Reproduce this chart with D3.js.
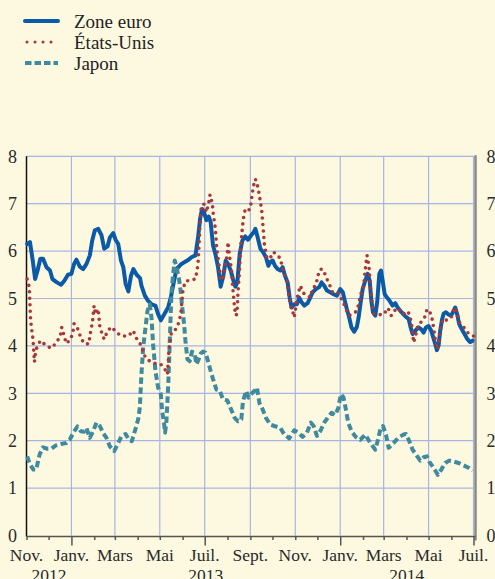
<!DOCTYPE html>
<html>
<head>
<meta charset="utf-8">
<script src="https://cdn.jsdelivr.net/npm/d3@7"></script>
<style>
  body { margin: 0; background: #fdf9e1; }
</style>
</head>
<body>
<div id="chart"></div>
<script>
// series names (legend)
const seriesNames = ["Zone euro", "États-Unis", "Japon"];

// x axis labels, one every two months from Nov. 2012
const monthLabels = ["Nov.", "Janv.", "Mars", "Mai", "Juil.", "Sept.", "Nov.", "Janv.", "Mars", "Mai", "Juil."];
const yearLabels = ["2012", "2013", "2014"];
const yTicks = [0, 1, 2, 3, 4, 5, 6, 7, 8];

// [days since 1 Nov 2012, value]
const euro = [
  [0.9,6.15],[4.7,6.19],[8.5,5.8],[11.7,5.41],[15,5.59],[18.8,5.84],[22.5,5.84],[27.2,5.66],[31.9,5.59],
  [35.2,5.41],[41.3,5.34],[46.9,5.29],[51.6,5.38],[56.3,5.5],[61,5.52],[64.6,5.73],[67.8,5.82],[72.4,5.67],
  [76.9,5.62],[81.5,5.73],[86,5.91],[89.2,6.22],[92.8,6.44],[97.4,6.47],[101.9,6.33],[105.5,6.05],[110.1,6.1],
  [113.3,6.29],[117.8,6.38],[121,6.24],[124.6,6.15],[128.3,5.8],[131.5,5.66],[134.6,5.31],[138.3,5.15],
  [141.9,5.48],[145.1,5.62],[149.6,5.5],[154.2,5.43],[156.1,5.27],[160.7,5.06],[165.2,4.95],[170.6,4.87],
  [175.1,4.85],[178.7,4.67],[182.4,4.54],[186.9,4.66],[192.3,4.81],[195.9,5.02],[199.1,5.27],[203.6,5.62],
  [206.8,5.67],[210.4,5.73],[214.9,5.77],[219.4,5.81],[224,5.87],[229.4,5.91],[233,6.29],[235.7,6.68],
  [238.4,6.89],[241.1,6.82],[244.3,6.65],[247.4,6.73],[250.1,6.61],[253.3,6.12],[256.5,5.94],[260.1,5.66],
  [263.7,5.25],[267.3,5.48],[270.5,5.8],[273.6,5.73],[277.3,5.59],[280.4,5.41],[283.6,5.25],[286.3,5.34],
  [289.5,5.94],[293.1,6.22],[297.1,6.31],[300.7,6.24],[304.9,6.33],[308.5,6.4],[310.8,6.47],[313.9,6.29],
  [317.6,6.05],[321.2,5.98],[325.2,5.87],[328.4,5.69],[331.1,5.77],[334.3,5.8],[337.4,5.69],[341.1,5.62],
  [344.7,5.59],[347.8,5.66],[351,5.48],[354.6,5.34],[357.3,5.02],[360,4.81],[363.6,4.88],[367.3,4.88],
  [370.4,5.02],[373.6,4.92],[377.2,4.85],[381.7,4.9],[385.3,5.02],[388.5,5.13],[393,5.2],[397.5,5.24],
  [400.7,5.34],[404.3,5.27],[407.9,5.17],[412.5,5.13],[417,5.09],[421.5,5.06],[426,5.2],[429.6,5.13],
  [432.3,4.95],[435,4.78],[438.2,4.6],[441.3,4.39],[444.9,4.3],[448.6,4.4],[451,4.6],[453.4,4.88],
  [456.5,5.2],[460.1,5.38],[463.3,5.52],[466,5.38],[468.3,4.95],[470.5,4.71],[473.7,4.64],[476.4,4.95],
  [479.1,5.52],[481.4,5.59],[483.6,5.38],[486.4,5.09],[489.5,5.02],[493.1,4.95],[497.2,4.85],[500.8,4.9],
  [504,4.81],[507.6,4.74],[511.2,4.68],[515.3,4.61],[518.9,4.57],[521.6,4.39],[524.3,4.25],[527.9,4.32],
  [532.4,4.39],[536.1,4.35],[539.2,4.28],[542.4,4.39],[546,4.42],[549.6,4.32],[552.3,4.18],[555,4.04],
  [557.3,3.91],[559.6,4.01],[561.8,4.32],[564.1,4.54],[566.4,4.68],[569.5,4.71],[573.1,4.66],[576.7,4.64],
  [579.9,4.74],[582.2,4.81],[584.9,4.66],[587.6,4.46],[591.2,4.35],[594.8,4.25],[598.4,4.15],[602.5,4.08],
  [605.7,4.11]
];

const us = [
  [0.9,5.41],[3.8,5.24],[4.7,4.88],[5.6,4.54],[7,4.35],[8.5,4.18],[9.4,4.0],[10.8,3.66],[12,3.82],[14.1,3.97],
  [18.8,4.11],[25.8,4.02],[32.9,3.95],[39.9,4.05],[46,4.21],[47.9,4.39],[54,4.05],[60.1,4.14],[63.3,4.32],
  [64.6,4.47],[70,4.35],[73.6,4.18],[78.1,4.05],[84.5,4.04],[87.3,4.32],[89.5,4.49],[91.8,4.85],[93.6,4.67],
  [97.3,4.78],[99.5,4.42],[102.7,4.25],[105.5,4.14],[110.1,4.32],[115.5,4.4],[122.3,4.28],[129.2,4.21],
  [138.3,4.21],[145.1,4.32],[148.3,4.18],[154.2,4.05],[161.6,3.75],[169.7,3.65],[182.4,3.61],[187.8,3.51],
  [191.4,3.4],[193.7,3.96],[196.8,4.28],[202.7,4.35],[206.8,4.49],[209.5,4.67],[212.6,5.2],[215.8,5.36],
  [223,5.39],[229.4,5.41],[231.6,5.59],[233,5.76],[234.3,6.12],[235.2,6.44],[237.5,6.96],[241.1,6.99],
  [244.3,6.82],[247.4,7.01],[249.2,7.19],[252.4,7.0],[253.3,6.82],[256.5,6.47],[258.3,6.05],[261,5.76],
  [263.7,5.41],[266.9,5.39],[269.1,5.66],[272.8,5.94],[273.6,6.19],[275.9,5.87],[278.2,5.62],[280.4,5.17],
  [282.7,4.78],[284.9,4.64],[286.3,4.81],[287.2,5.13],[289,5.52],[290.8,6.08],[292.6,6.4],[294.4,6.68],
  [297.1,6.89],[300.7,6.86],[303.9,6.89],[306.7,7.23],[308.5,7.39],[310.8,7.52],[313.9,7.37],[316.2,7.18],
  [319.4,6.86],[321.2,6.51],[323,6.15],[326.6,5.84],[331.1,5.86],[335.6,5.98],[340.1,5.91],[344.7,5.85],
  [349.2,5.52],[353.7,5.41],[356,5.09],[358.2,4.87],[361.4,4.73],[363.6,4.6],[365.9,4.85],[368.2,5.06],
  [371.8,5.27],[376.3,5.11],[380.8,5.08],[385.3,5.02],[388.5,5.2],[393,5.29],[397.5,5.59],[399.8,5.62],
  [403.4,5.6],[406.6,5.45],[411.1,5.31],[415.6,5.13],[422.4,5.13],[429.2,4.95],[433.7,4.78],[438.2,4.64],
  [442.7,4.68],[447.2,4.72],[450.5,4.85],[454,5.09],[457.9,5.27],[460.1,5.62],[462.4,5.91],[463.8,5.8],
  [465.6,5.59],[466.9,5.27],[468.3,5.06],[470.1,4.81],[471.4,4.68],[476,4.66],[485,4.66],[490.9,4.8],
  [495.4,4.64],[500.8,4.76],[504.7,4.8],[511.2,4.67],[518,4.73],[521.1,4.6],[523.4,4.4],[525.7,4.07],
  [528.8,4.25],[531.5,4.42],[536.1,4.51],[540.6,4.6],[543.7,4.76],[546.9,4.76],[550.5,4.59],[552.8,4.39],
  [555,4.14],[557.8,3.93],[560.5,4.18],[563.2,4.42],[565.5,4.57],[570.9,4.54],[576.7,4.6],[581.2,4.81],
  [584.4,4.71],[587.6,4.5],[593.5,4.4],[600.2,4.26],[607,4.21]
];

const japon = [
  [0.9,1.67],[4.7,1.5],[9.4,1.39],[13.1,1.39],[17.8,1.71],[22.5,1.86],[28.2,1.83],[33.8,1.83],[39.9,1.9],
  [46.9,1.93],[54,1.95],[58.7,2.02],[63.3,2.16],[69.1,2.3],[73.6,2.2],[78.1,2.19],[81.4,2.27],[85.9,2.06],
  [90.5,2.2],[95,2.38],[99.5,2.31],[104.1,2.16],[108.6,2.06],[113.2,1.88],[119.1,1.78],[123.6,1.92],
  [129.1,2.1],[134.6,2.14],[139.1,2.02],[143,1.99],[147.1,2.2],[151.6,2.45],[153.9,2.7],[156.1,3.4],
  [158.4,3.96],[161.6,4.39],[164.3,4.74],[167.4,4.88],[169.7,4.6],[171.9,4.04],[175.1,3.47],[178.7,3.12],
  [182.4,2.98],[184.2,2.63],[186.4,2.41],[188.2,2.17],[190,2.41],[192.3,3.12],[193.7,3.68],[195.5,4.53],
  [196.8,5.09],[199.1,5.52],[201.3,5.8],[203.6,5.66],[206.8,5.45],[209.5,5.13],[211.7,4.78],[214,4.46],
  [215.8,4.11],[218.5,3.72],[221.7,3.68],[224.8,3.88],[228.4,3.84],[230.7,3.61],[233.9,3.72],[236.6,3.84],
  [239.7,3.88],[242.9,3.86],[246.5,3.68],[250.1,3.47],[253.3,3.3],[257.8,3.08],[262.3,3.06],[266.9,2.87],
  [272.7,2.85],[277.3,2.68],[282.7,2.48],[287.2,2.41],[291.7,2.45],[294,2.84],[298.3,3.05],[301.5,2.91],
  [304.9,2.98],[309.4,3.05],[313,3.12],[316.2,2.8],[320.7,2.66],[325.2,2.48],[331.1,2.34],[336.5,2.31],
  [344.7,2.27],[350.1,2.13],[356.9,2.05],[363.6,2.22],[369.1,2.17],[374.9,2.08],[380.8,2.17],[386.2,2.38],
  [389.9,2.31],[394.4,2.1],[398.9,2.2],[404.3,2.38],[409.7,2.5],[414.3,2.59],[418.8,2.54],[423.3,2.68],
  [426.9,2.98],[430.5,2.91],[433.7,2.66],[436.9,2.38],[441.4,2.2],[447,2.08],[453.2,2.02],[460.1,2.13],
  [466.9,1.95],[473.7,1.81],[477.3,2.02],[480.5,2.24],[484.1,2.31],[488.2,2.12],[491.8,1.85],[496.3,1.92],
  [500.8,1.99],[505.3,2.07],[512.1,2.13],[515.3,2.14],[519.8,1.99],[524.3,1.81],[528.8,1.71],[534.7,1.58],
  [539.2,1.65],[543.7,1.67],[546.9,1.56],[551.4,1.46],[555,1.37],[558.7,1.28],[563.2,1.39],[568.6,1.53],
  [574,1.58],[579.9,1.56],[586.7,1.53],[593.5,1.48],[600.2,1.43],[605.7,1.37]
];

// sizes
const svgWidth = 495;
const svgHeight = 579;
const plot = { left: 26.5, right: 473.5, top: 156.3, bottom: 535.5 };
const serif = '"Liberation Serif"';

const start = new Date(2012, 10, 1);
const end = new Date(2014, 6, 1);
const dayDate = d => new Date(start.getTime() + d * 864e5);

const svg = d3.select("#chart").append("svg")
  .attr("width", svgWidth)
  .attr("height", svgHeight);

svg.append("rect").attr("width", svgWidth).attr("height", svgHeight).attr("fill", "#fdf9e1");

const x = d3.scaleTime().domain([start, end]).range([plot.left, plot.right]);
const y = d3.scaleLinear().domain([0, 8]).range([plot.bottom, plot.top]);

// gridlines
const gridColor = "#a7b5e2";
const monthTicks = monthLabels.map((m, i) => d3.timeMonth.offset(start, 2 * i));

svg.append("g").selectAll("line")
  .data(yTicks.filter(v => v > 0))
  .enter().append("line")
  .attr("x1", plot.left).attr("x2", plot.right)
  .attr("y1", d => y(d)).attr("y2", d => y(d))
  .attr("stroke", gridColor).attr("stroke-width", 1.2);

svg.append("g").selectAll("line")
  .data(monthTicks.slice(1))
  .enter().append("line")
  .attr("x1", d => x(d)).attr("x2", d => x(d))
  .attr("y1", plot.top).attr("y2", plot.bottom)
  .attr("stroke", gridColor).attr("stroke-width", 1.2);

// y axes (labels only)
const leftAxis = d3.axisLeft(y).tickValues(yTicks).tickSize(0).tickPadding(9.5);
const rightAxis = d3.axisRight(y).tickValues(yTicks).tickSize(0).tickPadding(11);

const yAxisL = svg.append("g").attr("transform", `translate(${plot.left},0)`).call(leftAxis);
const yAxisR = svg.append("g").attr("transform", `translate(${plot.right + 2},0)`).call(rightAxis);
[yAxisL, yAxisR].forEach(g => {
  g.select(".domain").remove();
  g.selectAll("text")
    .style("font-family", serif)
    .style("font-size", "18px")
    .attr("fill", "#2a2a2a");
});

// axis lines
svg.append("line")
  .attr("x1", plot.left).attr("x2", plot.left).attr("y1", plot.top).attr("y2", plot.bottom + 1)
  .attr("stroke", "#111").attr("stroke-width", 1.5);
svg.append("line")
  .attr("x1", plot.right + 2).attr("x2", plot.right + 2).attr("y1", plot.top - 1).attr("y2", plot.bottom + 5)
  .attr("stroke", "#8a8a82").attr("stroke-width", 2.5);

// bottom axis, a tick each month, longer ones in January and July
const allMonths = d3.timeMonth.range(start, d3.timeMonth.offset(end, 1));
const bottomAxis = d3.axisBottom(x).tickValues(allMonths).tickSize(3.5).tickFormat("");
const xAxis = svg.append("g").attr("transform", `translate(0,${plot.bottom + 1})`).call(bottomAxis);
xAxis.select(".domain").attr("stroke", "#555").attr("stroke-width", 1.5)
  .attr("d", `M${plot.left},0H${plot.right + 2}`);
xAxis.selectAll(".tick line")
  .attr("stroke", "#555").attr("stroke-width", 1.5)
  .attr("y2", d => (d.getMonth() === 0 || d.getMonth() === 6) ? 9 : 3.5);

svg.append("g").selectAll("text")
  .data(monthTicks)
  .enter().append("text")
  .attr("x", d => x(d))
  .attr("y", 561)
  .attr("text-anchor", "middle")
  .style("font-family", serif)
  .style("font-size", "17.5px")
  .attr("fill", "#2a2a2a")
  .text((d, i) => monthLabels[i]);

const yearSpans = [
  [start, new Date(2013, 0, 1)],
  [new Date(2013, 0, 1), new Date(2014, 0, 1)],
  [new Date(2014, 0, 1), end]
];
svg.append("g").selectAll("text")
  .data(yearSpans)
  .enter().append("text")
  .attr("x", d => (x(d[0]) + x(d[1])) / 2)
  .attr("y", 581)
  .attr("text-anchor", "middle")
  .style("font-family", serif)
  .style("font-size", "17.5px")
  .attr("fill", "#2a2a2a")
  .text((d, i) => yearLabels[i]);

// lines
const line = d3.line()
  .x(d => x(dayDate(d[0])))
  .y(d => y(d[1]))
  .curve(d3.curveLinear);

const styles = [
  { color: "#0b5aa8", width: 4, dash: null, cap: "round" },
  { color: "#a8373a", width: 3.6, dash: "0 6.5", cap: "round" },
  { color: "#3f8a9f", width: 4, dash: "6.5 3.5", cap: "butt" }
];
const seriesData = [euro, us, japon];

[0, 2, 1].forEach(i => {
  svg.append("path")
    .datum(seriesData[i])
    .attr("d", line)
    .attr("fill", "none")
    .attr("stroke", styles[i].color)
    .attr("stroke-width", styles[i].width)
    .attr("stroke-linejoin", "round")
    .attr("stroke-linecap", styles[i].cap)
    .attr("stroke-dasharray", styles[i].dash);
});

// legend
const legend = svg.append("g");
seriesNames.forEach((name, i) => {
  const ly = 21 + i * 21;
  legend.append("line")
    .attr("x1", i === 1 ? 27 : 25).attr("x2", 58)
    .attr("y1", ly).attr("y2", ly)
    .attr("stroke", styles[i].color)
    .attr("stroke-width", i === 1 ? 3 : 4)
    .attr("stroke-linecap", styles[i].cap)
    .attr("stroke-dasharray", i === 1 ? "0 8" : (i === 2 ? "6.5 3" : null));
  legend.append("text")
    .attr("x", 74).attr("y", ly + 6.5)
    .style("font-family", serif)
    .style("font-size", "19px")
    .attr("fill", "#222")
    .text(name);
});
</script>
</body>
</html>
